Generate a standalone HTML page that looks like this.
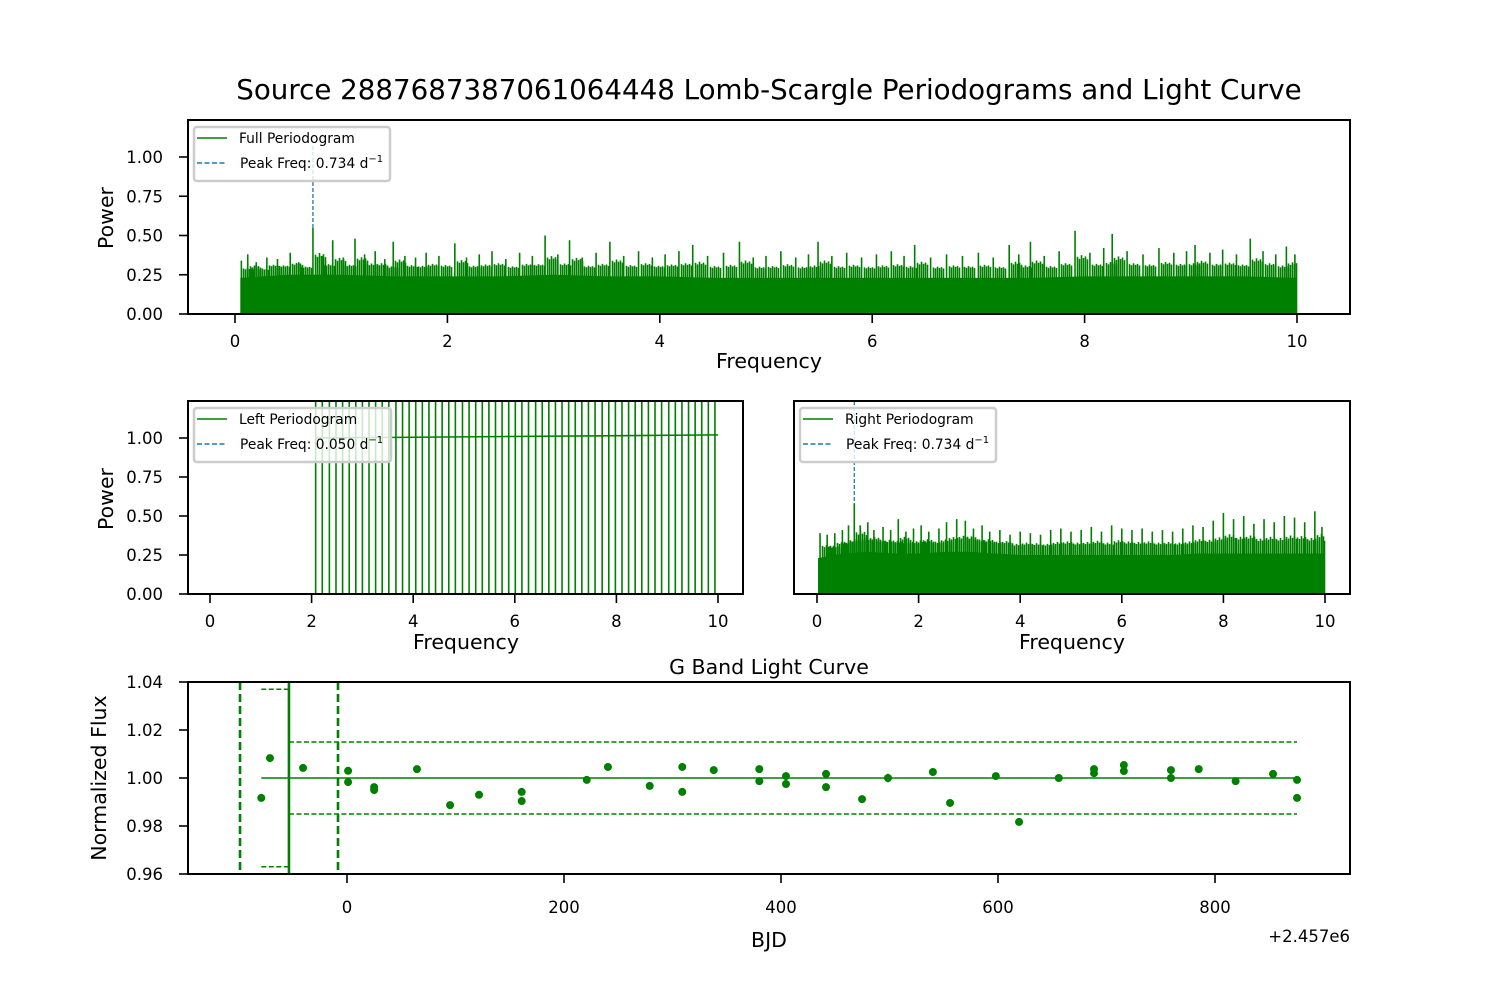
<!DOCTYPE html>
<html><head><meta charset="utf-8"><style>
html,body{margin:0;padding:0;background:#fff;}
svg text{font-family:"DejaVu Sans","Liberation Sans",sans-serif;fill:#000;}
</style></head><body>
<svg id="fig" width="1500" height="1000" viewBox="0 0 1500 1000" xmlns="http://www.w3.org/2000/svg">
<rect width="1500" height="1000" fill="#fff"/>
<text x="769" y="99" font-size="27.7" text-anchor="middle">Source 2887687387061064448 Lomb-Scargle Periodograms and Light Curve</text>
<defs>
<clipPath id="cTop"><rect x="188" y="120" width="1162" height="194"/></clipPath>
<clipPath id="cLeft"><rect x="188" y="401" width="555" height="193"/></clipPath>
<clipPath id="cRight"><rect x="794" y="401" width="556" height="193"/></clipPath>
<clipPath id="cLc"><rect x="188" y="682" width="1162" height="192"/></clipPath>
</defs>
<g id="gTop"></g>
<g id="gLeft"></g>
<g id="gRight"></g>
<g id="gLc"></g>
</svg>
<script>
// ---- data ----
const fullFloorFreq = [0.05,0.5,1,1.5,2,2.5,3,3.5,4,4.5,5,5.5,6,6.5,7,7.5,8,8.5,9,9.5,10];
const fullFloorPow  = [0.23,0.25,0.25,0.24,0.24,0.24,0.25,0.24,0.24,0.23,0.23,0.23,0.23,0.23,0.23,0.23,0.24,0.24,0.24,0.24,0.23];
const fullSpikeFreq = [0.06,0.12,0.2,0.3,0.4,0.52,0.6,0.734,0.82,0.92,1.02,1.13,1.22,1.32,1.41,1.49,1.6,1.7,1.8,1.92,2.07,2.18,2.3,2.42,2.55,2.68,2.8,2.92,3.04,3.15,3.27,3.4,3.53,3.66,3.8,3.93,4.05,4.18,4.31,4.45,4.6,4.75,4.88,5.0,5.14,5.28,5.4,5.49,5.62,5.76,5.9,6.04,6.18,6.3,6.4,6.55,6.7,6.85,7.0,7.14,7.29,7.38,7.49,7.62,7.76,7.91,8.05,8.18,8.26,8.4,8.55,8.7,8.84,8.96,9.04,9.18,9.3,9.43,9.56,9.68,9.8,9.9,9.98];
const fullSpikePow  = [0.34,0.38,0.33,0.36,0.35,0.39,0.33,0.55,0.37,0.47,0.36,0.48,0.38,0.40,0.35,0.46,0.37,0.36,0.39,0.37,0.45,0.36,0.38,0.40,0.35,0.39,0.37,0.50,0.38,0.47,0.36,0.39,0.46,0.37,0.40,0.36,0.38,0.40,0.44,0.37,0.39,0.46,0.36,0.37,0.40,0.36,0.38,0.46,0.37,0.39,0.36,0.38,0.40,0.37,0.44,0.36,0.38,0.37,0.39,0.36,0.44,0.38,0.46,0.37,0.40,0.53,0.39,0.42,0.51,0.40,0.38,0.42,0.39,0.40,0.44,0.39,0.41,0.38,0.48,0.40,0.38,0.43,0.38];
const leftFreq = [2.08,2.21,2.35,2.48,2.61,2.74,2.87,3.00,3.13,3.26,3.39,3.52,3.66,3.79,3.92,4.05,4.18,4.31,4.44,4.57,4.70,4.83,4.97,5.10,5.23,5.36,5.49,5.62,5.75,5.88,6.01,6.14,6.27,6.41,6.54,6.67,6.80,6.93,7.06,7.19,7.32,7.45,7.58,7.72,7.85,7.98,8.11,8.24,8.37,8.50,8.63,8.76,8.89,9.03,9.16,9.29,9.42,9.55,9.68,9.81,9.94];
const leftBaseFreq = [2.08,10.0];
const leftBasePow = [1.0,1.02];
const rightFloorFreq = [0.02,0.5,1,1.5,2,2.5,3,3.5,4,4.5,5,5.5,6,6.5,7,7.5,8,8.5,9,9.5,10];
const rightFloorPow  = [0.23,0.26,0.27,0.26,0.26,0.27,0.27,0.26,0.25,0.25,0.25,0.25,0.25,0.25,0.25,0.26,0.26,0.26,0.26,0.26,0.26];
const rightSpikeFreq = [0.06,0.2,0.35,0.5,0.62,0.734,0.85,1.0,1.12,1.3,1.45,1.6,1.75,1.9,2.05,2.2,2.4,2.55,2.75,2.92,3.08,3.25,3.4,3.6,3.8,4.0,4.2,4.4,4.6,4.8,5.0,5.2,5.4,5.6,5.8,6.0,6.2,6.4,6.6,6.8,7.0,7.2,7.4,7.6,7.8,8.0,8.2,8.4,8.6,8.8,9.0,9.2,9.4,9.6,9.8,9.94];
const rightSpikePow  = [0.39,0.38,0.39,0.41,0.44,0.58,0.44,0.46,0.41,0.43,0.41,0.48,0.40,0.42,0.44,0.40,0.42,0.46,0.48,0.47,0.42,0.44,0.40,0.41,0.38,0.40,0.39,0.38,0.41,0.42,0.40,0.41,0.43,0.40,0.44,0.42,0.41,0.42,0.40,0.41,0.40,0.42,0.44,0.43,0.47,0.52,0.48,0.50,0.45,0.48,0.46,0.50,0.49,0.46,0.53,0.43];
const lcTime = [-79,-71,-40.5,1,1,25,25,64.5,95,121.7,161,161,221,240.5,279,309,309,338,380,380,404.6,404.6,441.5,441.5,474.7,498.6,540,555.8,598,619.4,656,688.5,688.5,716,716,759.4,759.4,785,819,853.5,875.6,875.6];
const lcFlux = [0.9917,1.0083,1.0042,1.003,0.9983,0.9962,0.995,1.0037,0.9887,0.993,0.9942,0.9904,0.9992,1.0046,0.9967,1.0046,0.9942,1.0033,1.0037,0.9987,1.0008,0.9975,1.0017,0.9962,0.9912,1.0,1.0025,0.9896,1.0008,0.9817,1.0,1.0037,1.002,1.0054,1.0029,1.0033,1.0,1.0037,0.9987,1.0017,0.9992,0.9917];
const lcErr = [0.0005,0.0005,0.0005,0.0005,0.0005,0.0008,0.0008,0.0012,0.0005,0.0005,0.0006,0.0006,0.0005,0.0012,0.0005,0.0006,0.0005,0.0005,0.0006,0.0005,0.0005,0.0005,0.0005,0.0005,0.0008,0.0018,0.0005,0.0005,0.0005,0.0005,0.0005,0.0005,0.0005,0.0006,0.0005,0.0005,0.0005,0.0005,0.0005,0.0008,0.0005,0.0009];
const lcMean = [1.0];
const lcBand = [0.015];
const lcOuter = [0.037];
const lcVlines = [-98.6,-53.5,-8.3];
const fullTicksX=[0,2,4,6,8,10], powTicks=[0,0.25,0.5,0.75,1.0];
const lcTicksX=[0,200,400,600,800], lcTicksY=[0.96,0.98,1.00,1.02,1.04];

// ---- helpers ----
const NS="http://www.w3.org/2000/svg";
function mk(parent,tag,attrs,txt){const e=document.createElementNS(NS,tag);for(const k in attrs)e.setAttribute(k,attrs[k]);if(txt!==undefined)e.textContent=txt;parent.appendChild(e);return e;}
function lin(d0,d1,r0,r1){return v=>r0+(v-d0)*(r1-r0)/(d1-d0);}
const G="#008000", B="#1f77b4";
const TF=16.5, AF=20.5;

function frame(g,x0,y0,w,h){
  const r=mk(g,'rect',{x:x0,y:y0,width:w,height:h,fill:'none',stroke:'#000','stroke-width':2});
  
  
}
function xTicks(g,ticks,sx,yb,fmt,off){
  ticks.forEach(t=>{const x=sx(t);
    const l=mk(g,'line',{x1:x,x2:x,y1:yb,y2:yb+9,stroke:'#000','stroke-width':1.6});
    
    
    const tx=mk(g,'text',{x:x,y:yb+off,'font-size':TF,'text-anchor':'middle'},fmt(t));
    
    
  });
}
function yTicks(g,ticks,sy,xl,fmt){
  ticks.forEach(t=>{const y=sy(t);
    const l=mk(g,'line',{x1:xl-9,x2:xl,y1:y,y2:y,stroke:'#000','stroke-width':1.6});
    
    
    const tx=mk(g,'text',{x:xl-25,y:y+6,'font-size':TF,'text-anchor':'end'},fmt(t));
    
    
  });
}
function legend(g,x,y,w,lab1,lab2){
  const lg=mk(g,'g',{});
  
  
  mk(lg,'rect',{x:x,y:y,width:w,height:54,rx:3,fill:'rgba(255,255,255,0.8)',stroke:'#ccc','stroke-width':2.5});
  mk(lg,'line',{x1:x+3,x2:x+33,y1:y+11,y2:y+11,stroke:G,'stroke-width':1.4});
  const t1=mk(lg,'text',{x:x+45,y:y+16,'font-size':13.8},lab1);
  
  
  mk(lg,'line',{x1:x+3,x2:x+33,y1:y+36,y2:y+36,stroke:B,'stroke-width':1.4,'stroke-dasharray':'5,2.5'});
  const t2=mk(lg,'text',{x:x+46,y:y+41,'font-size':13.8},lab2);
  mk(t2,'tspan',{'font-size':10,dy:-6},'−1');
  
  
}
const companions=[[2,0.80],[4,0.70],[6,0.88],[8,0.74],[10,0.82],[12,0.68]];
function periodo(g,clip,sx,sy,floorF,floorP,spF,spP){
  const c=mk(g,'g',{'clip-path':`url(#${clip})`});
  let d=`M${sx(floorF[0])},${sy(0)} L${sx(floorF[0])},${sy(floorP[0]*0.6)}`;
  floorF.forEach((f,i)=>{d+=` L${sx(f)},${sy(floorP[i])}`;});
  d+=` L${sx(floorF[floorF.length-1])},${sy(0)} Z`;
  const p=mk(c,'path',{d:d,fill:G});
  
  
  const xEnd=sx(floorF[floorF.length-1]);
  spF.forEach((f,i)=>{
    const base=floorP[Math.min(floorP.length-1,Math.round(f*2))];
    const l=mk(c,'line',{x1:sx(f),x2:sx(f),y1:sy(0),y2:sy(spP[i]),stroke:G,'stroke-width':1.6});
    
    
    companions.forEach(([dx,fr])=>{
      const x=Math.round(sx(f)+dx)+0.5; if(x>xEnd) return;
      const h=base+(spP[i]-base)*fr*0.45+0.02;
      const l2=mk(c,'line',{x1:x,x2:x,y1:sy(0),y2:sy(h),stroke:G,'stroke-width':1.6});
      
      
    });
  });
}

// ---- top panel ----
(function(){
  const g=document.getElementById('gTop');
  const sx=lin(0,10,235,1297), sy=lin(0,1,314,157);
  periodo(g,'cTop',sx,sy,fullFloorFreq,fullFloorPow,fullSpikeFreq,fullSpikePow);
  const v=mk(g,'line',{x1:sx(0.734),x2:sx(0.734),y1:sy(1.07),y2:sy(0.55),stroke:B,'stroke-width':1.3,'stroke-dasharray':'4,2'});
  
  
  frame(g,188,120,1162,194);
  xTicks(g,fullTicksX,sx,314,t=>t,33);
  yTicks(g,powTicks,sy,188,t=>t.toFixed(2));
  const xl=mk(g,'text',{x:769,y:368,'font-size':AF,'text-anchor':'middle'},'Frequency');
  
  
  const yl=mk(g,'text',{x:113,y:218,'font-size':AF,'text-anchor':'middle',transform:'rotate(-90 113 218)'},'Power');
  
  
  legend(g,194,127,196,'Full Periodogram','Peak Freq: 0.734 d');
})();

// ---- left panel ----
(function(){
  const g=document.getElementById('gLeft');
  const sx=lin(0,10,210,718), sy=lin(0,1,594,438);
  const c=mk(g,'g',{'clip-path':'url(#cLeft)'});
  leftFreq.forEach(f=>{
    const l=mk(c,'line',{x1:sx(f),x2:sx(f),y1:sy(0),y2:sy(1.5),stroke:G,'stroke-width':1.6});
    
    
  });
  const bl=mk(c,'line',{x1:sx(leftBaseFreq[0]),x2:sx(leftBaseFreq[1]),y1:sy(leftBasePow[0]),y2:sy(leftBasePow[1]),stroke:G,'stroke-width':1.6});
  
  
  frame(g,188,401,555,193);
  xTicks(g,fullTicksX,sx,594,t=>t,33);
  yTicks(g,powTicks,sy,188,t=>t.toFixed(2));
  const xl=mk(g,'text',{x:466,y:649,'font-size':AF,'text-anchor':'middle'},'Frequency');
  
  
  const yl=mk(g,'text',{x:113,y:499,'font-size':AF,'text-anchor':'middle',transform:'rotate(-90 113 499)'},'Power');
  
  
  legend(g,194,408,197,'Left Periodogram','Peak Freq: 0.050 d');
})();

// ---- right panel ----
(function(){
  const g=document.getElementById('gRight');
  const sx=lin(0,10,817,1325), sy=lin(0,1,594,438);
  periodo(g,'cRight',sx,sy,rightFloorFreq,rightFloorPow,rightSpikeFreq,rightSpikePow);
  const v=mk(g,'line',{x1:sx(0.734),x2:sx(0.734),y1:401,y2:sy(0.58),stroke:B,'stroke-width':1.3,'stroke-dasharray':'4,2'});
  
  
  frame(g,794,401,556,193);
  xTicks(g,fullTicksX,sx,594,t=>t,33);
  const xl=mk(g,'text',{x:1072,y:649,'font-size':AF,'text-anchor':'middle'},'Frequency');
  
  
  legend(g,800,408,196,'Right Periodogram','Peak Freq: 0.734 d');
})();

// ---- light curve ----
(function(){
  const g=document.getElementById('gLc');
  const sx=lin(0,800,347,1215), sy=lin(0.96,1.04,874,682);
  const c=mk(g,'g',{'clip-path':'url(#cLc)'});
  const tMin=lcTime[0], tMax=lcTime[lcTime.length-1];
  const m=mk(c,'line',{x1:sx(tMin),x2:sx(tMax),y1:sy(lcMean[0]),y2:sy(lcMean[0]),stroke:G,'stroke-width':1.5});
  
  
  [1,-1].forEach(s=>{
    const l=mk(c,'line',{x1:sx(lcVlines[1]),x2:sx(tMax),y1:sy(lcMean[0]+s*lcBand[0]),y2:sy(lcMean[0]+s*lcBand[0]),stroke:G,'stroke-width':1.5,'stroke-dasharray':'5,2.5'});
    
    
    const o=mk(c,'line',{x1:sx(tMin),x2:sx(lcVlines[1]),y1:sy(lcMean[0]+s*lcOuter[0]),y2:sy(lcMean[0]+s*lcOuter[0]),stroke:G,'stroke-width':1.5,'stroke-dasharray':'5,2.5'});
    
    
  });
  lcVlines.forEach((t,i)=>{
    const l=mk(c,'line',{x1:sx(t),x2:sx(t),y1:682,y2:874,stroke:G,'stroke-width':2.6,'stroke-dasharray':i===1?'none':'8,4'});
    
    
  });
  lcTime.forEach((t,i)=>{
    const x=sx(t), y=sy(lcFlux[i]);
    const e=mk(c,'line',{x1:x,x2:x,y1:sy(lcFlux[i]-lcErr[i]),y2:sy(lcFlux[i]+lcErr[i]),stroke:G,'stroke-width':1.5});
    
    
    const p=mk(c,'circle',{cx:x,cy:y,r:4,fill:G});
    
    
  });
  frame(g,188,682,1162,192);
  xTicks(g,lcTicksX,sx,874,t=>t,39);
  yTicks(g,lcTicksY,sy,188,t=>t.toFixed(2));
  const tt=mk(g,'text',{x:769,y:674,'font-size':AF,'text-anchor':'middle'},'G Band Light Curve');
  
  
  const xl=mk(g,'text',{x:769,y:947,'font-size':AF,'text-anchor':'middle'},'BJD');
  
  
  const off=mk(g,'text',{x:1350,y:942,'font-size':TF,'text-anchor':'end'},'+2.457e6');
  
  
  const yl=mk(g,'text',{x:106,y:778,'font-size':AF,'text-anchor':'middle',transform:'rotate(-90 106 778)'},'Normalized Flux');
  
  
})();
</script>
</body></html>
